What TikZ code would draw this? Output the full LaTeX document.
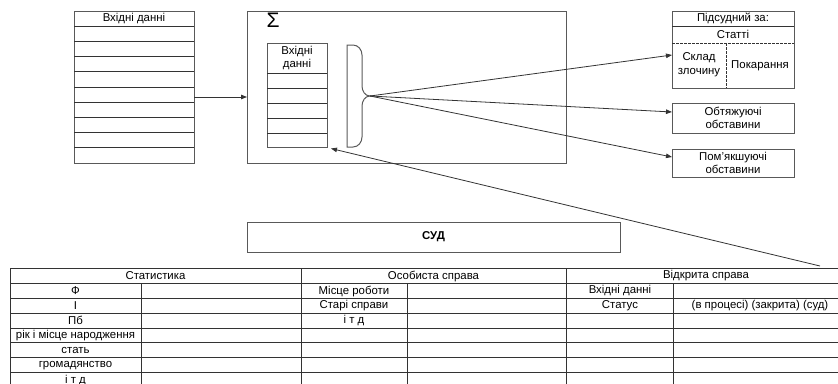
\documentclass[tikz,border=0pt]{standalone}
\usepackage{fontspec}
\setmainfont{Liberation Sans}
\usetikzlibrary{arrows.meta,positioning,calc}

\newcommand{\cellfont}{\fontsize{11.4}{13.6}\selectfont}

\begin{document}
\begin{tikzpicture}[x=1pt, y=-1pt,
  box/.style={rectangle, draw=black!65, line width=1pt, inner sep=0pt, outer sep=0pt, align=center, font=\cellfont},
  cell/.style={rectangle, draw=none, inner sep=0pt, align=center, font=\cellfont},
  rule/.style={draw=black!80, line width=0.9pt},
  sep/.style={draw=black!80, line width=0.8pt, dash pattern=on 2.5pt off 1.5pt},
  arr/.style={draw=black!80, line width=0.8pt, -{Triangle[length=6pt, width=4.5pt]}}
]
  \clip (0,0) rectangle (838,383);

  % Input table on the left
  \node[box, minimum width=120pt, minimum height=152pt] (inbox) at (134,87) {};
  \node[cell] (intitle) at (134,18.5) {Вхідні данні};
  \foreach \k in {1,...,9}
    \draw[rule] (74,11+15.2*\k) -- (194,11+15.2*\k);

  % Summation block with its own input list
  \node[box, minimum width=319pt, minimum height=152pt] (sumbox) at (406.5,87) {};
  \node[cell, font=\fontsize{21}{21}\selectfont] (sigma) at (273,20.5) {Σ};
  \node[box, minimum width=60pt, minimum height=104pt] (intab) at (297,95) {};
  \node[cell] (intabtitle) at (297,58) {Вхідні\\данні};
  \foreach \y in {73,88,103,118,133}
    \draw[rule] (267,\y) -- (327,\y);

  % Brace gathering the list
  \draw[rule, draw=black!65, line width=1pt]
    (347,45) -- (353,45) to[out=0, in=90] (362,55) -- (362,86)
    to[out=-90, in=180] (370,96) to[out=180, in=90] (362,106) -- (362,137)
    to[out=-90, in=0] (353,147) -- (347,147) -- cycle;
  \coordinate (tip) at (370,96);

  % Output boxes on the right
  \node[box, minimum width=122pt, minimum height=77pt] (accused) at (733,49.5) {};
  \node[cell] (acctitle) at (733,18.5) {Підсудний за:};
  \node[cell] (articles) at (733,34.5) {Статті};
  \node[cell] (crime) at (699,65) {Склад\\злочину};
  \node[cell] (penalty) at (760,65.5) {Покарання};
  \draw[rule] (672,26) -- (794,26);
  \draw[sep] (672,43.3) -- (794,43.3);
  \draw[sep] (726,43.3) -- (726,88);

  \node[box, minimum width=122pt, minimum height=30pt] (aggr) at (733,118) {Обтяжуючі\\обставини};
  \node[box, minimum width=122pt, minimum height=28pt] (mitig) at (733,163) {Пом’якшуючі\\обставини};

  % Court
  \node[box, minimum width=373pt, minimum height=30pt, font=\cellfont\bfseries] (court) at (433.5,237) {СУД};
  \coordinate (far) at (820,266);

  % Connectors
  \draw[arr] ([yshift=-10pt]inbox.east) -- ([yshift=-10pt]sumbox.west);
  \draw[arr] (tip) -- ([yshift=-5.5pt]accused.west);
  \draw[arr] (tip) -- ([yshift=6pt]aggr.west);
  \draw[arr] (tip) -- ([yshift=6pt]mitig.west);
  \draw[arr] (far) -- ([xshift=4pt,yshift=-1.5pt]intab.south east);

  % Register table at the bottom
  \foreach \y in {268,283,298,313,328,342.6,357.4,372.3}
    \draw[rule] (10,\y) -- (850,\y);
  \draw[rule] (10,268) -- (10,390);
  \foreach \x in {301,566}
    \draw[rule] (\x,268) -- (\x,390);
  \foreach \x in {141,407,673}
    \draw[rule] (\x,283) -- (\x,390);

  \node[cell] (stats) at (155.5,276) {Статистика};
  \node[cell] (personal) at (433.5,276) {Особиста справа};
  \node[cell] (opencase) at (706,276) {Відкрита справа};

  \foreach \txt [count=\i] in {Ф, I, Пб, рік і місце народження, стать, громадянство, і т д}
    \node[cell] (s\i) at (75.5,276+14.9*\i) {\txt};
  \node[cell] (p1) at (354,291) {Місце роботи};
  \node[cell] (p2) at (354,306) {Старі справи};
  \node[cell] (p3) at (354,321) {і т д};
  \node[cell] (o1) at (620,291) {Вхідні данні};
  \node[cell] (o2) at (620,306) {Статус};
  \node[cell] (o3) at (760,306) {(в процесі) (закрита) (суд)};
\end{tikzpicture}
\end{document}
